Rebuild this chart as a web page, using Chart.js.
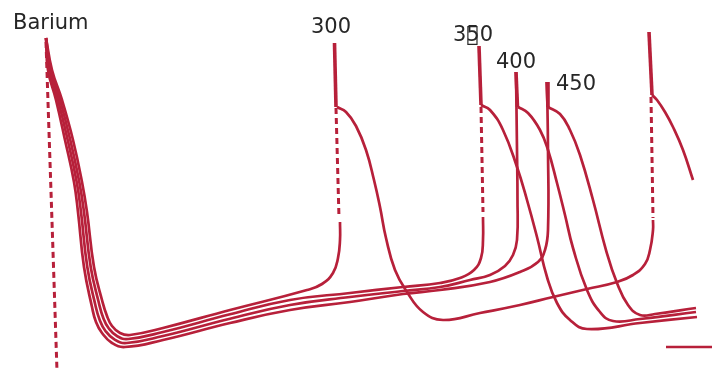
<!DOCTYPE html>
<html>
<head>
<meta charset="utf-8">
<script src="https://cdn.jsdelivr.net/npm/chart.js@4"></script>
<style>
  html, body { margin: 0; padding: 0; background: #ffffff; }
  #wrap { width: 712px; height: 371px; position: relative; }
</style>
</head>
<body>
<div id="wrap"><canvas id="chart"></canvas></div>
<script>
// Route network: x = distance along the diagram, y = depth (grows downward)
const RED = '#b7203a';

// Station names and where each name sits (left edge, baseline)
const stationNames = ['Barium', '300', '350', '400', '450'];
const stationLabelAt = [[1.3, 2.9], [31.1, 3.3], [45.3, 4.1], [49.6, 6.8], [55.6, 9.0]];
// A second, unrenderable name printed over the middle digit of "350"
const markedName = 2, markedChar = 1, overprint = '\uE000';

// Four parallel routes leaving Barium
const bariumTo300 = [[4.6,3.8],[5.2,7.0],[6.2,10.0],[7.3,14.0],[8.2,18.2],[8.7,21.2],[9.4,26.7],[10.2,30.0],[10.7,31.6],[11.2,32.6],[12.0,33.3],[13.0,33.5],[16.3,32.8],[23.0,31.0],[30.7,29.0],[32.2,28.4],[33.3,27.3],[33.8,25.8],[34.0,24.0],[34.0,22.2]];
const bariumTo350 = [[4.6,3.8],[5.07,7.0],[6.0,10.0],[7.03,14.0],[7.93,18.2],[8.4,21.2],[9.07,26.7],[9.87,30.23],[10.33,31.8],[10.87,32.83],[11.73,33.63],[12.83,33.9],[16.3,33.2],[23.0,31.43],[29.0,30.0],[35.0,29.3],[40.3,28.7],[44.0,28.3],[46.0,27.8],[47.4,27.0],[48.1,25.8],[48.3,24.0],[48.3,21.7]];
const bariumTo400 = [[4.6,3.8],[4.93,7.0],[5.8,10.0],[6.77,14.0],[7.67,18.2],[8.1,21.2],[8.73,26.7],[9.53,30.47],[9.97,32.0],[10.53,33.07],[11.47,33.97],[12.67,34.3],[16.3,33.6],[23.0,31.87],[29.0,30.5],[35.0,29.7],[40.3,29.1],[44.0,28.7],[47.0,28.0],[49.0,27.5],[50.5,26.6],[51.3,25.5],[51.7,24.0],[51.75,20.0],[51.7,15.0],[51.6,7.2]];
const bariumTo450 = [[4.6,3.8],[4.8,7.0],[5.6,10.0],[6.5,14.0],[7.4,18.2],[7.8,21.2],[8.4,26.7],[9.2,30.7],[9.6,32.2],[10.2,33.3],[11.2,34.3],[12.5,34.7],[16.3,34.0],[23.0,32.3],[29.0,31.0],[35.0,30.2],[40.3,29.4],[44.0,29.0],[49.0,28.2],[52.0,27.2],[53.8,26.2],[54.5,25.0],[54.8,23.0],[54.8,15.0],[54.7,8.2]];

// Routes leaving each station downward
const from300 = [[33.7,10.7],[34.6,11.2],[35.6,12.6],[36.6,15.0],[37.4,18.0],[38.0,20.7],[38.6,23.8],[39.5,27.0],[40.7,29.2],[42.3,31.2],[44.3,32.0],[48.0,31.3],[52.0,30.5],[55.3,29.7],[58.7,28.9],[61.7,28.2],[63.3,27.5],[64.5,26.4],[65.0,25.0],[65.3,23.0],[65.3,22.0]];
const from350 = [[48.1,10.5],[49.0,11.0],[50.3,13.0],[51.7,16.7],[52.7,20.0],[53.7,23.7],[54.7,27.7],[55.7,30.3],[57.0,32.0],[58.7,32.9],[64.0,32.3],[69.7,31.7]];
const from400 = [[51.8,10.7],[52.8,11.3],[54.0,13.0],[54.8,15.0],[55.7,18.3],[56.5,21.5],[57.3,24.8],[58.7,29.0],[60.0,31.2],[61.3,32.1],[64.0,31.9],[69.6,31.2]];
const from450 = [[54.8,10.7],[56.0,11.4],[57.0,13.0],[58.0,15.5],[59.3,20.0],[60.6,25.0],[61.7,28.3],[62.8,30.5],[64.0,31.5],[65.5,31.4],[69.6,30.8]];
const fromEnd = [[65.2,9.5],[65.7,10.0],[66.5,11.2],[67.3,12.7],[68.3,15.0],[69.3,18.0]];
const stub = [[66.6,34.7],[71.2,34.7]];

// Station posts (thick) and transfer connectors (dotted)
const posts = [
  [[33.45,4.3],[33.6,10.7]],
  [[47.9,4.6],[48.1,10.5]],
  [[51.6,7.2],[51.75,10.7]],
  [[54.7,8.2],[54.8,10.7]],
  [[64.9,3.2],[65.2,9.5]]
];
const connectors = [
  [[4.6,4.2],[5.7,37.1]],
  [[33.6,10.8],[33.9,21.8]],
  [[48.1,10.7],[48.3,21.2]],
  [[65.1,9.7],[65.3,21.8]]
];

function route(points, extra) {
  return Object.assign({
    data: points.map(([x, y]) => ({ x, y })),
    showLine: true,
    borderColor: RED,
    backgroundColor: RED,
    borderWidth: 2.7,
    pointRadius: 0,
    tension: 0.45,
    fill: false,
    clip: false,
    borderCapStyle: 'butt'
  }, extra || {});
}

const datasets = [];
connectors.forEach(c => datasets.push(route(c, { borderDash: [6, 4], borderWidth: 3, tension: 0 })));
[bariumTo300, bariumTo350, bariumTo400, bariumTo450, from300, from350, from400, from450, fromEnd, stub]
  .forEach(r => datasets.push(route(r)));
posts.forEach(p => datasets.push(route(p, { borderWidth: 3.6, tension: 0 })));

const stationLabels = {
  id: 'stationLabels',
  afterDatasetsDraw(chart) {
    const { ctx, scales: { x, y } } = chart;
    ctx.save();
    ctx.font = '21px "DejaVu Sans"';
    ctx.fillStyle = '#262626';
    ctx.textAlign = 'left';
    ctx.textBaseline = 'alphabetic';
    stationNames.forEach((name, i) => {
      const [lx, ly] = stationLabelAt[i];
      const px = x.getPixelForValue(lx), py = y.getPixelForValue(ly);
      ctx.fillText(name, px, py);
      if (i === markedName) {
        const offset = ctx.measureText(name.slice(0, markedChar)).width;
        ctx.fillText(overprint, px + offset, py);
      }
    });
    ctx.restore();
  }
};

new Chart(document.getElementById('chart'), {
  type: 'scatter',
  data: { datasets },
  options: {
    responsive: true,
    maintainAspectRatio: false,
    animation: false,
    events: [],
    layout: { padding: 0 },
    plugins: { legend: { display: false }, tooltip: { enabled: false } },
    scales: {
      x: { type: 'linear', min: 0, max: 71.2, display: false },
      y: { type: 'linear', min: 0, max: 37.1, reverse: true, display: false }
    }
  },
  plugins: [stationLabels]
});
</script>
</body>
</html>
